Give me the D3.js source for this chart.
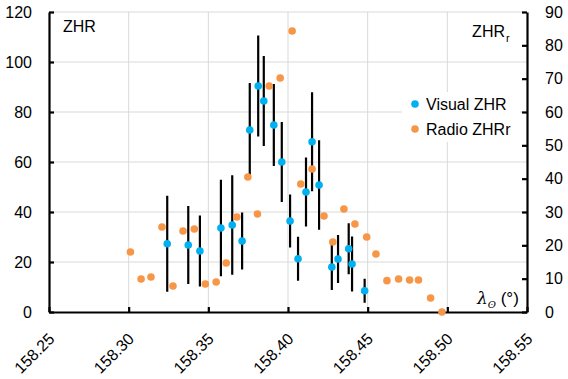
<!DOCTYPE html>
<html>
<head>
<meta charset="utf-8">
<script src="https://cdn.jsdelivr.net/npm/d3@7"></script>
<style>
  html, body { margin: 0; padding: 0; background: #fff; }
  svg { display: block; }
  text { font-family: "Liberation Sans", Arial, sans-serif; fill: #000; }
</style>
</head>
<body>
<svg id="chart" width="568" height="379"></svg>
<script>
// ---- Data ----
const xTickLabels = ["158.25", "158.30", "158.35", "158.40", "158.45", "158.50", "158.55"];
const leftTicks = [0, 20, 40, 60, 80, 100, 120];
const rightTicks = [0, 10, 20, 30, 40, 50, 60, 70, 80, 90];

const visualX = [158.3242, 158.3374, 158.3447, 158.3579, 158.3650, 158.3712, 158.3760, 158.3813, 158.3848, 158.3911, 158.3961, 158.4013, 158.4063, 158.4113, 158.4151, 158.4195, 158.4275, 158.4314, 158.4381, 158.4402, 158.4481];
const visualZHR = [27.3, 26.8, 24.4, 33.6, 34.8, 28.4, 72.8, 90.4, 84.4, 74.8, 60.0, 36.4, 21.3, 48.0, 68.1, 50.8, 18.0, 21.2, 25.3, 19.2, 8.5];
const visualErr = [19.2, 15.6, 14.2, 19.3, 19.9, 11.4, 18.8, 20.2, 18.0, 16.4, 16.0, 10.6, 8.8, 13.8, 19.8, 17.9, 9.2, 9.6, 10.2, 11.0, 4.8];

const radioX = [158.3011, 158.3078, 158.3140, 158.3209, 158.3278, 158.3341, 158.3412, 158.3481, 158.3549, 158.3612, 158.3679, 158.3748, 158.3808, 158.3882, 158.3951, 158.4026, 158.4080, 158.4151, 158.4226, 158.4281, 158.4351, 158.4420, 158.4494, 158.4552, 158.4621, 158.4694, 158.4763, 158.4819, 158.4895, 158.4966];
const radioZHR = [18.0, 9.9, 10.5, 25.5, 7.8, 24.3, 24.9, 8.4, 9.0, 14.7, 28.5, 40.5, 29.4, 67.8, 70.2, 84.3, 38.4, 42.9, 28.8, 21.0, 30.9, 26.4, 22.5, 17.4, 9.4, 9.9, 9.6, 9.6, 4.2, 0.0];

const seriesNames = ["Visual ZHR", "Radio ZHRr"];
const colors = ["#00B0F0", "#F79646"];

// ---- Layout ----
const svg = d3.select("#chart");
const L = 49, R = 527, T = 12, B = 312;

const x = d3.scaleLinear().domain([158.25, 158.55]).range([L, R]);
const yL = d3.scaleLinear().domain([0, 120]).range([B, T]);
const yR = d3.scaleLinear().domain([0, 90]).range([B, T]);
const xTickVals = xTickLabels.map(Number);

// gridlines
const grid = svg.append("g");
grid.selectAll("line.h").data(leftTicks.filter(d => d > 0)).enter().append("line")
  .attr("x1", L).attr("x2", R).attr("y1", d => yL(d)).attr("y2", d => yL(d))
  .attr("stroke", "#D9D9D9").attr("stroke-width", 1);
grid.selectAll("line.v").data(xTickVals.slice(1, -1)).enter().append("line")
  .attr("x1", d => x(d)).attr("x2", d => x(d)).attr("y1", T).attr("y2", B)
  .attr("stroke", "#D9D9D9").attr("stroke-width", 1);

// axes
const axL = svg.append("g").attr("transform", `translate(${L},0)`)
  .call(d3.axisLeft(yL).tickValues(leftTicks).tickSize(-5).tickPadding(17).tickSizeOuter(0));
const axR = svg.append("g").attr("transform", `translate(${R},0)`)
  .call(d3.axisRight(yR).tickValues(rightTicks).tickSize(-5).tickPadding(18).tickSizeOuter(0));
const axB = svg.append("g").attr("transform", `translate(0,${B})`)
  .call(d3.axisBottom(x).tickValues(xTickVals).tickFormat((d, i) => xTickLabels[i]).tickSize(-5).tickSizeOuter(0));

[axL, axR, axB].forEach(a => {
  a.select(".domain").attr("stroke", "#000").attr("stroke-width", 2.2);
  a.selectAll(".tick line").attr("stroke", "#000").attr("stroke-width", 2.2);
  a.selectAll("text").attr("font-size", 16).attr("font-family", "Liberation Sans, Arial, sans-serif").attr("fill", "#000");
});
axB.selectAll(".tick text")
  .attr("text-anchor", "end")
  .attr("dy", null).attr("y", null)
  .attr("transform", "translate(6,28) rotate(-45)");

// error bars
svg.append("g").selectAll("line").data(visualX).enter().append("line")
  .attr("x1", d => x(d)).attr("x2", d => x(d))
  .attr("y1", (d, i) => yL(visualZHR[i] + visualErr[i]))
  .attr("y2", (d, i) => yL(visualZHR[i] - visualErr[i]))
  .attr("stroke", "#000").attr("stroke-width", 2.2);

// visual points
svg.append("g").selectAll("circle").data(visualX).enter().append("circle")
  .attr("cx", d => x(d)).attr("cy", (d, i) => yL(visualZHR[i]))
  .attr("r", 3.8).attr("fill", colors[0]);

// radio points
svg.append("g").selectAll("circle").data(radioX).enter().append("circle")
  .attr("cx", d => x(d)).attr("cy", (d, i) => yR(radioZHR[i]))
  .attr("r", 3.8).attr("fill", colors[1]);

// axis titles
svg.append("text").attr("x", 63).attr("y", 32).attr("font-size", 16).text("ZHR");
svg.append("text").attr("x", 505).attr("y", 37).attr("font-size", 16).attr("text-anchor", "end").text("ZHR");
svg.append("text").attr("x", 506).attr("y", 42).attr("font-size", 11).text("r");

const xl = svg.append("text").attr("x", 477).attr("y", 304).attr("font-size", 17);
xl.append("tspan").attr("font-family", "DejaVu Serif, serif").attr("font-style", "italic").text("λ");
xl.append("tspan").attr("font-family", "DejaVu Serif, serif").attr("font-style", "italic").attr("font-size", 10).attr("dy", 4).text("ʘ");
xl.append("tspan").attr("dy", -4).text(" (°)");

// legend
const lg = svg.append("g");
lg.append("rect").attr("x", 402).attr("y", 92).attr("width", 118).attr("height", 50).attr("fill", "#fff");
seriesNames.forEach((n, i) => {
  const yy = 104 + i * 25;
  lg.append("circle").attr("cx", 415).attr("cy", yy).attr("r", 3.8).attr("fill", colors[i]);
  lg.append("text").attr("x", 426).attr("y", yy + 6).attr("font-size", 16).text(n);
});
</script>
</body>
</html>
